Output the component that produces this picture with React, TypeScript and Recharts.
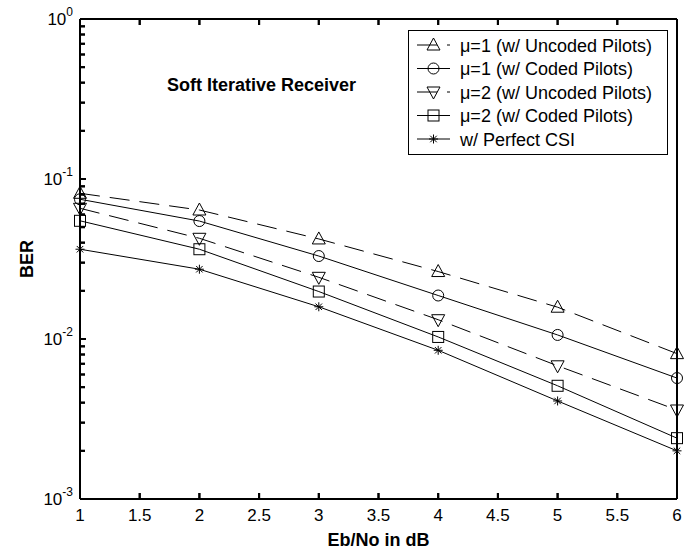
import React from "react";
import { LineChart, Line, XAxis, YAxis, Legend, Label } from "recharts";

const ebno = [1, 2, 3, 4, 5, 6];
const mu1Uncoded = [0.0814, 0.064, 0.0422, 0.0264, 0.0158, 0.0081];
const mu1Coded = [0.0747, 0.0546, 0.033, 0.0187, 0.0106, 0.0057];
const mu2Uncoded = [0.0656, 0.0426, 0.0243, 0.0132, 0.0068, 0.0036];
const mu2Coded = [0.0548, 0.0364, 0.0198, 0.0103, 0.0051, 0.0024];
const perfectCSI = [0.0364, 0.0273, 0.0159, 0.0085, 0.0041, 0.002];

const seriesNames = [
  "\u03bc=1 (w/ Uncoded Pilots)",
  "\u03bc=1 (w/ Coded Pilots)",
  "\u03bc=2 (w/ Uncoded Pilots)",
  "\u03bc=2 (w/ Coded Pilots)",
  "w/ Perfect CSI",
];
const seriesMarkers = ["triUp", "circle", "triDown", "square", "star"];
const seriesDashed = [true, false, true, false, false];

const xTicks = [1, 1.5, 2, 2.5, 3, 3.5, 4, 4.5, 5, 5.5, 6];
const yMajorTicks = [0.001, 0.01, 0.1, 1];
const yTicks: number[] = [];
yMajorTicks.forEach((d, i) => {
  yTicks.push(d);
  if (i < yMajorTicks.length - 1) {
    for (let k = 2; k <= 9; k++) yTicks.push(+(d * k).toPrecision(3));
  }
});

const titleText = "Soft Iterative Receiver";
const xLabel = "Eb/No in dB";
const yLabel = "BER";

const allSeries = [mu1Uncoded, mu1Coded, mu2Uncoded, mu2Coded, perfectCSI];
const data = ebno.map((x, i) => {
  const row: any = { x };
  allSeries.forEach((s, j) => (row["s" + j] = s[i]));
  return row;
});

const FONT = "'Liberation Sans', Arial, Helvetica, sans-serif";
const DASH = "20 10";
const TICK_LINE = { stroke: "#000", strokeWidth: 2 };
const AXIS_LINE = { stroke: "#000", strokeWidth: 2 };

function Marker({ type, cx, cy }: { type: string; cx: number; cy: number }) {
  const st = { stroke: "#000", strokeWidth: 1, fill: "none" };
  if (type === "triUp")
    return <polygon points={`${cx - 6.5},${cy + 5} ${cx + 6.5},${cy + 5} ${cx},${cy - 7}`} {...st} />;
  if (type === "triDown")
    return <polygon points={`${cx - 6.5},${cy - 5} ${cx + 6.5},${cy - 5} ${cx},${cy + 7}`} {...st} />;
  if (type === "circle") return <circle cx={cx} cy={cy} r={5.5} {...st} />;
  if (type === "square") return <rect x={cx - 5.5} y={cy - 5.5} width={11} height={11} {...st} />;
  const r = 4.5;
  const d = r * 0.72;
  return (
    <g {...st}>
      <line x1={cx - r} x2={cx + r} y1={cy} y2={cy} />
      <line x1={cx} x2={cx} y1={cy - r} y2={cy + r} />
      <line x1={cx - d} x2={cx + d} y1={cy - d} y2={cy + d} />
      <line x1={cx - d} x2={cx + d} y1={cy + d} y2={cy - d} />
    </g>
  );
}

const isMajor = (v: number) => Math.abs(Math.log10(v) - Math.round(Math.log10(v))) < 1e-6;

// left axis: tick coordinate x is the axis position (tickSize -5 + tickMargin 5)
const LeftTick = (props: any) => {
  const x = Number(props.x);
  const y = Number(props.y);
  const v = props.payload.value;
  const major = isMajor(v);
  const exp = Math.round(Math.log10(v));
  return (
    <g>
      <rect x={x} y={y - 1} width={major ? 6 : 5} height={2} fill="#000" stroke="none" />
      {major && (
        <text x={73} y={y + 6} textAnchor="end" fontFamily={FONT} fontSize={17} fill="#000" stroke="none">
          <tspan>10</tspan>
          <tspan dy={-9} fontSize={12}>{String(exp)}</tspan>
        </text>
      )}
    </g>
  );
};

// right axis: tick coordinate x is 5px inside the axis (tickSize -5, tickMargin 0)
const RightTick = (props: any) => {
  const x = Number(props.x);
  const y = Number(props.y);
  return <rect x={x} y={y - 1} width={5} height={2} fill="#000" stroke="none" />;
};

// bottom axis: tick coordinate y is the axis position (tickSize -6 + tickMargin 6)
const BottomTick = (props: any) => {
  const x = Number(props.x);
  const y = Number(props.y);
  return (
    <g>
      <rect x={x - 1} y={y - 6} width={2} height={6} fill="#000" stroke="none" />
      <text x={x} y={521} textAnchor="middle" fontFamily={FONT} fontSize={17} fill="#000" stroke="none">
        {String(props.payload.value)}
      </text>
    </g>
  );
};

// top axis: tick coordinate y is 6px inside the axis (tickSize -6, tickMargin 0)
const TopTick = (props: any) => {
  const x = Number(props.x);
  const y = Number(props.y);
  return <rect x={x - 1} y={y - 6} width={2} height={6} fill="#000" stroke="none" />;
};

const LegendBox = () => {
  const rowY = (i: number) => 15 + i * 23.5;
  return (
    <svg width={260} height={125} style={{ display: "block" }}>
      <rect x={0.5} y={0.5} width={259} height={124} fill="#fff" stroke="#000" strokeWidth={1} />
      {seriesNames.map((n, i) => (
        <g key={n}>
          <line
            x1={9}
            x2={42}
            y1={rowY(i)}
            y2={rowY(i)}
            stroke="#000"
            strokeWidth={1}
            strokeDasharray={seriesDashed[i] ? DASH : undefined}
          />
          <Marker type={seriesMarkers[i]} cx={25.5} cy={rowY(i)} />
          <text x={52} y={rowY(i) + 6.5} fontFamily={FONT} fontSize={18} fill="#000">
            {n}
          </text>
        </g>
      ))}
    </svg>
  );
};

export default function App() {
  return (
    <div style={{ position: "absolute", left: 0, top: 0, width: 694, height: 552, background: "#fff" }}>
      <LineChart width={694} height={552} data={data} margin={{ top: 0, right: 0, bottom: 0, left: 0 }}>
        <XAxis
          xAxisId="bottom"
          dataKey="x"
          type="number"
          domain={[1, 6]}
          ticks={xTicks}
          interval={0}
          height={53}
          tickSize={-6}
          tickMargin={6}
          tick={<BottomTick />}
          axisLine={AXIS_LINE}
          tickLine={TICK_LINE}
        >
          <Label
            content={(p: any) => {
              const vb = p.viewBox;
              return (
                <text
                  x={vb.x + vb.width / 2}
                  y={546}
                  textAnchor="middle"
                  fontFamily={FONT}
                  fontWeight="bold"
                  fontSize={18}
                  fill="#000"
                >
                  {xLabel}
                </text>
              );
            }}
          />
        </XAxis>
        <XAxis
          xAxisId="top"
          dataKey="x"
          type="number"
          orientation="top"
          domain={[1, 6]}
          ticks={xTicks}
          interval={0}
          height={19}
          tickSize={-6}
          tickMargin={0}
          tick={<TopTick />}
          axisLine={AXIS_LINE}
          tickLine={TICK_LINE}
        />
        <YAxis
          yAxisId="left"
          type="number"
          scale="log"
          domain={[0.001, 1]}
          ticks={yTicks}
          interval={0}
          width={80}
          tickSize={-5}
          tickMargin={5}
          tick={<LeftTick />}
          axisLine={AXIS_LINE}
          tickLine={TICK_LINE}
        >
          <Label
            content={(p: any) => {
              const vb = p.viewBox;
              const cy = vb.y + vb.height / 2;
              return (
                <text
                  x={33}
                  y={cy}
                  transform={`rotate(-90 33 ${cy})`}
                  textAnchor="middle"
                  fontFamily={FONT}
                  fontWeight="bold"
                  fontSize={18}
                  fill="#000"
                >
                  {yLabel}
                </text>
              );
            }}
          />
        </YAxis>
        <YAxis
          yAxisId="right"
          orientation="right"
          type="number"
          scale="log"
          domain={[0.001, 1]}
          ticks={yTicks}
          interval={0}
          width={17}
          tickSize={-5}
          tickMargin={0}
          tick={<RightTick />}
          axisLine={AXIS_LINE}
          tickLine={TICK_LINE}
        />
        {allSeries.map((_, j) => (
          <Line
            key={"s" + j}
            xAxisId="bottom"
            yAxisId="left"
            type="linear"
            dataKey={"s" + j}
            name={seriesNames[j]}
            stroke="#000"
            strokeWidth={1}
            strokeDasharray={seriesDashed[j] ? DASH : undefined}
            isAnimationActive={false}
            activeDot={false}
            dot={(p: any) => <Marker key={`m${j}-${p.index}`} type={seriesMarkers[j]} cx={p.cx} cy={p.cy} />}
          />
        ))}
        <Legend
          layout="vertical"
          align="center"
          verticalAlign="middle"
          content={() => <LegendBox />}
          wrapperStyle={{ position: "absolute", left: 408, top: 30, width: 260, height: 125, margin: 0 }}
        />
      </LineChart>
      <div
        style={{
          position: "absolute",
          left: 167,
          top: 75,
          fontFamily: FONT,
          fontWeight: "bold",
          fontSize: 18,
          lineHeight: "20px",
          color: "#000",
          whiteSpace: "nowrap",
        }}
      >
        {titleText}
      </div>
    </div>
  );
}
